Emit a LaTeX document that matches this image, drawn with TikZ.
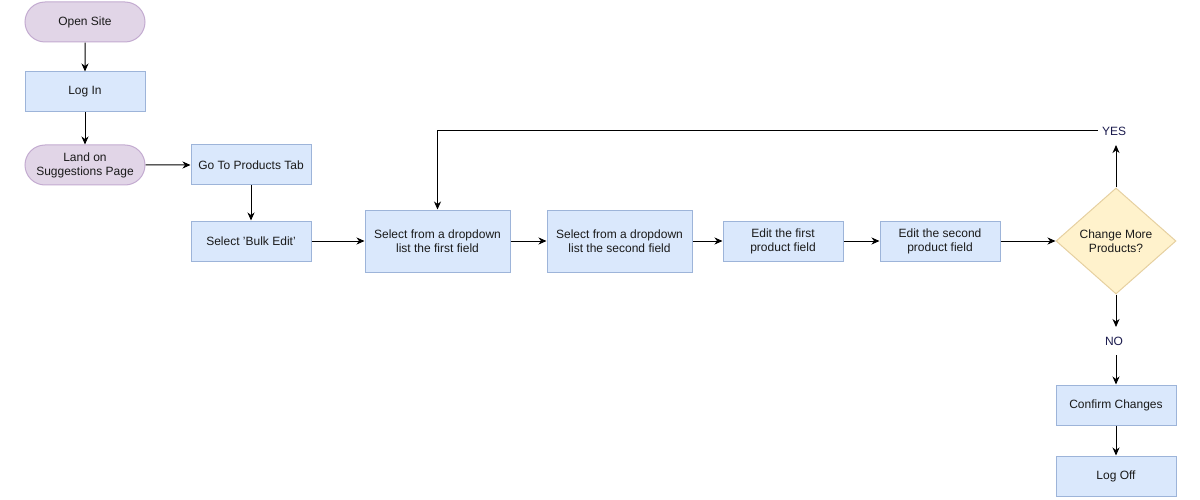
\documentclass[tikz,border=0pt]{standalone}
\usepackage{fontspec}
\setmainfont{Liberation Sans}
\usetikzlibrary{shapes.geometric,shapes.misc,arrows.meta}
\definecolor{lilacfill}{HTML}{E1D5E7}
\definecolor{lilacline}{HTML}{C3ABD0}
\definecolor{bluefill}{HTML}{DAE8FC}
\definecolor{blueline}{HTML}{9DB4D9}
\definecolor{yelfill}{HTML}{FFF2CC}
\definecolor{yelline}{HTML}{E6D0A0}
\definecolor{txt}{HTML}{1A1A1A}
\definecolor{lbl}{HTML}{1A1A4D}
\begin{document}
\begin{tikzpicture}[x=1pt,y=-1pt,
  every node/.style={font=\fontsize{12}{14}\selectfont, text=txt, align=center, inner sep=0pt},
  term/.style={rounded rectangle, draw=lilacline, fill=lilacfill, line width=1pt, minimum width=120pt, minimum height=40pt},
  proc/.style={rectangle, draw=blueline, fill=bluefill, line width=1pt, minimum width=120pt, minimum height=40pt},
  wide/.style={proc, minimum width=145pt, minimum height=62pt},
  dec/.style={diamond, draw=yelline, fill=yelfill, line width=1pt, minimum width=120pt, minimum height=106pt, aspect=1.13},
  lab/.style={text=lbl},
  conn/.style={line width=1pt, black, -{Stealth[length=8pt,width=7pt,inset=2.5pt]}}
]
\useasboundingbox (0,0) rectangle (1200,500);
\node[term] (open) at (85,22) {Open Site};
\node[proc] (login) at (85,92) {Log In};
\node[term] (land) at (85,165) {Land on\\Suggestions Page};
\node[proc] (prod) at (251,165) {Go To Products Tab};
\node[proc] (bulk) at (251,241) {Select 'Bulk Edit'};
\node[wide] (sel1) at (437.5,241) {Select from a dropdown\\list the first field};
\node[wide] (sel2) at (619.5,241) {Select from a dropdown\\list the second field};
\node[proc] (ed1) at (783,241) {Edit the first\\product field};
\node[proc] (ed2) at (940,241) {Edit the second\\product field};
\node[dec] (chg) at (1116,241) {};
\node (chgt) at (1116,241) {Change More\\Products?};
\node[lab] (yes) at (1114,131) {YES};
\node[lab] (no) at (1114,341) {NO};
\node[proc] (conf) at (1116,405) {Confirm Changes};
\node[proc] (off) at (1116,476) {Log Off};
\coordinate (yesin) at (1116,145);
\coordinate (noin) at (1116,327);
\coordinate (noout) at (1116,355);

\draw[conn] (open) -- (login);
\draw[conn] (login) -- (land);
\draw[conn] (land) -- (prod);
\draw[conn] (prod) -- (bulk);
\draw[conn] (bulk) -- (sel1);
\draw[conn] (sel1) -- (sel2);
\draw[conn] (sel2) -- (ed1);
\draw[conn] (ed1) -- (ed2);
\draw[conn] (ed2) -- (chg.west);
\draw[conn] (chg.north) -- (yesin);
\draw[conn] ([xshift=-4pt]yes.west) -| (sel1.north);
\draw[conn] (chg.south) -- (noin);
\draw[conn] (noout) -- (conf.north);
\draw[conn] (conf) -- (off);
\end{tikzpicture}
\end{document}
